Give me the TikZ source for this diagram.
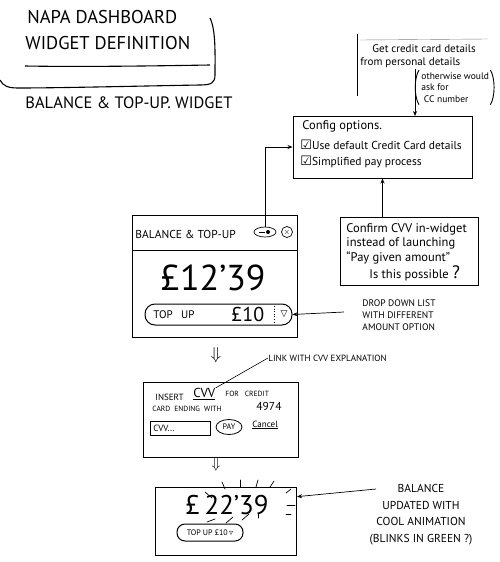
\documentclass[tikz,border=0pt]{standalone}
\usepackage{fontspec}
\setmainfont{PT Sans}
\newfontfamily\symf{DejaVu Sans}
\usetikzlibrary{arrows.meta,calc,shapes.geometric}
\begin{document}
\begin{tikzpicture}[x=1pt,y=-1pt, line width=0.9pt,
  box/.style={draw, line width=1pt, inner sep=0pt},
  tx/.style={inner sep=0pt, anchor=west, font=\fontsize{11}{12}\selectfont},
  captx/.style={inner sep=0pt, anchor=west, font=\fontsize{9}{10}\selectfont},
  arr/.style={-{Stealth[length=5pt,width=4pt]}, line width=0.7pt},
  dsh/.style={line width=0.7pt, line cap=round},
]
\useasboundingbox (0,0) rectangle (500,562);

% ---- title
\node[inner sep=0pt, anchor=west, font=\fontsize{18.5}{19}\selectfont] (t1) at (27,17) {NAPA DASHBOARD};
\node[inner sep=0pt, anchor=west, font=\fontsize{18.5}{19}\selectfont] (t2) at (25,43) {WIDGET DEFINITION};
\draw[line width=1.1pt] (25,66) .. controls (80,67) and (150,66) .. (210,65);
\draw[line width=1.1pt] (210,18) .. controls (216,30) and (215,55) .. (215,75)
      .. controls (215,83) and (211,85) .. (200,85) .. controls (140,86) and (60,88) .. (18,88)
      .. controls (8,88) and (3,86) .. (0,80);
\node[inner sep=0pt, anchor=west, font=\fontsize{16.5}{17}\selectfont] (sub) at (25,103) {BALANCE \& TOP-UP. WIDGET};

% ---- note: credit card details
\draw (357,34) -- (357,96);
\draw[line width=0.4pt, gray] (360,40) -- (488,39);
\node[tx] (n1) at (372,49) {Get credit card details};
\node[tx] (n2) at (360,63) {from personal details};
\node[inner sep=0pt, anchor=north west, font=\fontsize{9.5}{11.5}\selectfont, align=left] (n3) at (421,72)
  {otherwise would\\ ask for\\ \ CC number};
\draw (n3.north west) ++(-2,-2) .. controls +(-5,8) and +(-5,-8) .. ($(n3.south west)+(-2,2)$);
\draw (n3.north east) ++(1,-2) .. controls +(5,8) and +(5,-8) .. ($(n3.south east)+(1,2)$);

% ---- options box
\node[box, minimum width=179pt, minimum height=62pt] (opt) at (382.5,147) {};
\node[tx, font=\fontsize{12.5}{13}\selectfont] (o1) at (302,126) {Config options.};
\node[tx, font=\fontsize{11.5}{12}\selectfont] (o2) at (300,145) {{\symf\fontsize{13}{13}\selectfont ☑}Use default Credit Card details};
\node[tx, font=\fontsize{11.5}{12}\selectfont] (o3) at (300,162) {{\symf\fontsize{13}{13}\selectfont ☑}Simplified pay process};
\coordinate (nt) at (415,69);
\draw[arr] (nt) -- (415,116);

% ---- balance widget
\node[box, minimum width=165pt, minimum height=122pt] (w) at (214.5,276) {};
\draw (132,250) -- (297,250);
\node[inner sep=0pt, anchor=west, font=\fontsize{11.5}{12}\selectfont] (wt) at (135,234) {BALANCE \& TOP-UP};
\node[draw, ellipse, line width=0.7pt, minimum width=22pt, minimum height=10pt, inner sep=0pt] (minb) at (265,232) {};
\draw[line width=0.7pt] (259,232) -- (265,232);
\fill (268,232) circle (2pt);
\node[draw, circle, line width=0.7pt, minimum size=11pt, inner sep=0pt, font=\fontsize{8}{8}\selectfont] (clb) at (287,232) {$\times$};
\node[inner sep=0pt, font=\fontsize{36}{38}\selectfont] (amt) at (213,278) {£12'39};
\node[box, rounded corners=10pt, minimum width=147pt, minimum height=21pt] (pill) at (218.5,314.5) {};
\node[inner sep=0pt, anchor=west, font=\fontsize{11}{12}\selectfont] (tu) at (153,315) {TOP\enspace\ UP};
\node[inner sep=0pt, anchor=west, font=\fontsize{20}{21}\selectfont] (ten) at (231,314) {£10};
\draw[dotted, line width=0.6pt] (274,306) -- (274,323);
\node[inner sep=0pt, font=\fontsize{9}{9}\selectfont\symf] (dd1) at (284,314) {▽};
\draw[arr] (minb.north) |- (opt.west);

% ---- confirm note
\node[box, minimum width=138pt, minimum height=68pt] (conf) at (409,251) {};
\node[tx, font=\fontsize{12.5}{13}\selectfont] (c1) at (346,229) {Confirm CVV in-widget};
\node[tx, font=\fontsize{12.5}{13}\selectfont] (c2) at (346,243) {instead of launching};
\node[tx, font=\fontsize{12.5}{13}\selectfont] (c3) at (346,258) {“Pay given amount”};
\node[tx, font=\fontsize{12.5}{13}\selectfont] (c4) at (369,273) {Is this possible \fontsize{18}{18}\selectfont ?};
\draw[arr] (conf.north -| opt.south) -- (opt.south);

% ---- drop down note
\node[captx, font=\fontsize{9.5}{12}\selectfont, anchor=north west, align=left] (ddn) at (362,299) {DROP DOWN LIST\\WITH DIFFERENT\\AMOUNT OPTION};
\coordinate (ddc) at (344,312);
\draw[arr] (ddc) -- (pill.east);

% ---- arrows down
\node[inner sep=0pt, font=\fontsize{17}{17}\selectfont] (d1) at (216,355) {$\Downarrow$};
\node[inner sep=0pt, font=\fontsize{15}{15}\selectfont] (d2) at (216,465) {$\Downarrow$};

% ---- CVV dialog
\node[box, minimum width=155pt, minimum height=75pt] (cvvb) at (220.5,419.5) {};
\node[captx, font=\fontsize{9}{10}\selectfont] (i1) at (155,397) {INSERT};
\node[inner sep=0pt, anchor=west, font=\fontsize{13}{14}\selectfont] (cvw) at (193,394) {\underline{CVV}};
\node[captx, font=\fontsize{7.5}{8}\selectfont] (i3) at (225,394) {FOR\ \ \ CREDIT};
\node[captx, font=\fontsize{7.5}{8}\selectfont] (i4) at (152,409) {CARD\ \ ENDING\ \ WITH};
\node[inner sep=0pt, anchor=west, font=\fontsize{11.5}{12}\selectfont] (i5) at (256,406) {4974};
\node[draw, line width=0.8pt, minimum width=60pt, minimum height=14pt, inner sep=2pt, anchor=west,
      font=\fontsize{9}{10}\selectfont, text width=54pt] (inp) at (150,428) {CVV...};
\node[draw, ellipse, line width=0.8pt, inner sep=1pt, minimum width=26pt, minimum height=15pt,
      font=\fontsize{8}{9}\selectfont] (pay) at (229,427) {PAY};
\node[inner sep=0pt, anchor=west, font=\fontsize{9}{10}\selectfont] (can) at (252,425) {\underline{Cancel}};
\node[captx] (lnk) at (268,358) {LINK WITH CVV EXPLANATION};
\draw[line width=0.6pt] (lnk.west) -- (cvw.north east);

% ---- final widget
\node[box, minimum width=141pt, minimum height=68pt] (fin) at (226,521.5) {};
\node[inner sep=0pt, font=\fontsize{27}{28}\selectfont] (amt2) at (227,505) {£\,22'39};
\node[box, rounded corners=8pt, minimum width=66pt, minimum height=17pt] (pill2) at (210,532.5) {};
\node[inner sep=0pt, font=\fontsize{8}{8}\selectfont] (tu2) at (210,533) {TOP UP £10\,{\symf ▿}};
\draw[dsh] (222,482) -- (225,489);
\draw[dsh] (240,480) -- (240,487);
\draw[dsh] (258,480) -- (256,487);
\draw[dsh] (274,481) -- (270,487);
\draw[dsh] (205,492) -- (212,498);
\draw[dsh] (286,493) -- (291,489);
\draw[dsh] (287,505) -- (295,505);
\draw[dsh] (286,514) -- (291,514);
\draw[dsh] (207,522) -- (215,519);
\draw[dsh] (226,523) -- (233,517);
\draw[dsh] (242,520) -- (249,514);
\draw[dsh] (258,518) -- (258,514);

% ---- balance note
\node[captx, align=center, font=\fontsize{11.5}{16.5}\selectfont, anchor=north] (bal) at (421,484) {BALANCE\\UPDATED WITH\\COOL ANIMATION\\(BLINKS IN GREEN ?)};
\coordinate (bc) at (376,489);
\draw[arr] (bc) -- ($(fin.north east)!0.14!(fin.south east)$);
\end{tikzpicture}
\end{document}
